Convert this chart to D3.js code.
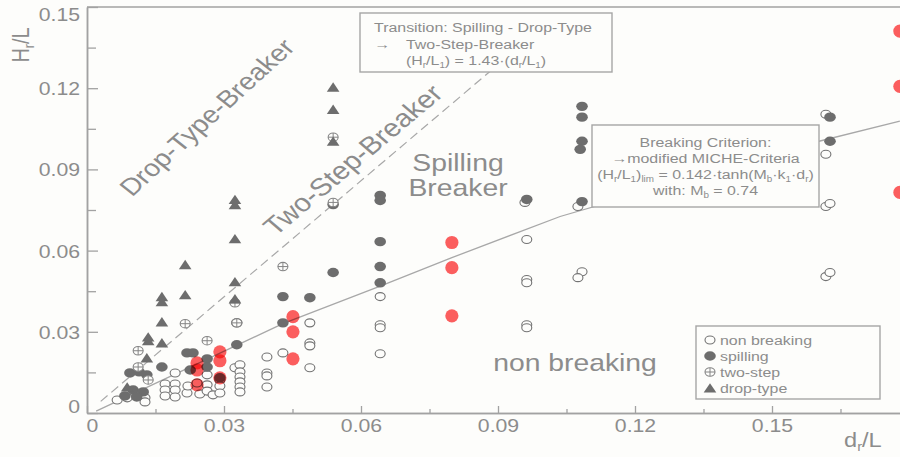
<!DOCTYPE html>
<html>
<head>
<meta charset="utf-8">
<script src="https://cdn.jsdelivr.net/npm/d3@7"></script>
<style>
  html, body { margin: 0; padding: 0; background: #fdfdfb; }
  svg { display: block; font-family: "Liberation Sans", Arial, sans-serif; }
</style>
</head>
<body>
<svg id="chart" width="900" height="457"></svg>
<script>
// ---- measured breaker data: [d_r/L, H_r/L] ----
const nonBreaking = [
  [0.0066,0.0048],[0.0088,0.0056],[0.0127,0.0056],[0.0127,0.0041],
  [0.0171,0.0107],[0.0171,0.0085],[0.0171,0.0063],
  [0.0193,0.0148],[0.0193,0.0107],[0.0193,0.0085],[0.0193,0.0059],
  [0.0219,0.0074],[0.0221,0.0100],[0.0241,0.0111],[0.0247,0.0070],
  [0.0263,0.0141],[0.0263,0.0104],[0.0263,0.0081],[0.0276,0.0067],
  [0.0291,0.0122],[0.0291,0.0100],[0.0291,0.0074],
  [0.0324,0.0167],[0.0335,0.0178],[0.0335,0.0152],[0.0335,0.0133],[0.0335,0.0115],[0.0335,0.0096],[0.0335,0.0078],
  [0.0394,0.0207],[0.0394,0.0148],[0.0394,0.0137],[0.0394,0.0096],
  [0.0429,0.0222],
  [0.0488,0.0333],[0.0488,0.0259],[0.0488,0.0248],[0.0488,0.0167],
  [0.0642,0.0430],[0.0642,0.0326],[0.0642,0.0315],[0.0642,0.0219],
  [0.0959,0.0778],[0.0963,0.0641],[0.0963,0.0493],[0.0963,0.0481],[0.0963,0.0326],[0.0963,0.0315],
  [0.1075,0.0763],[0.1084,0.0522],[0.1075,0.0500],
  [0.1618,0.1104],[0.1618,0.0956],[0.1618,0.0763],[0.1627,0.0774],[0.1618,0.0504],[0.1627,0.0519]
];
const spilling = [
  [0.0094,0.0148],[0.0114,0.0152],[0.0131,0.0141],[0.0101,0.0085],[0.0123,0.0078],[0.0083,0.0063],[0.0109,0.0059],
  [0.0164,0.0170],[0.0219,0.0222],[0.0232,0.0222],[0.0226,0.0159],[0.0263,0.0200],[0.0263,0.0170],
  [0.0291,0.0130],[0.0328,0.0252],[0.0328,0.0333],
  [0.0429,0.0430],[0.0429,0.0333],[0.0488,0.0426],
  [0.0539,0.0770],[0.0539,0.0519],
  [0.0642,0.0804],[0.0642,0.0785],[0.0642,0.0633],[0.0642,0.0541],[0.0642,0.0481],
  [0.0963,0.0789],
  [0.1084,0.1133],[0.1084,0.1093],[0.1084,0.1004],[0.1080,0.0974],[0.1084,0.0781],
  [0.1627,0.1093],[0.1627,0.1004]
];
const twoStep = [
  [0.0112,0.0230],[0.0112,0.0170],[0.0134,0.0122],[0.0215,0.0330],[0.0263,0.0267],
  [0.0324,0.0407],[0.0328,0.0333],[0.0429,0.0541],[0.0539,0.1019],[0.0539,0.0778]
];
const dropType = [
  [0.0088,0.0096],[0.0131,0.0204],[0.0134,0.0281],[0.0134,0.0267],[0.0164,0.0259],[0.0164,0.0337],
  [0.0164,0.0430],[0.0164,0.0411],[0.0215,0.0437],[0.0215,0.0548],
  [0.0324,0.0422],[0.0324,0.0485],[0.0324,0.0644],[0.0324,0.0770],[0.0324,0.0789],
  [0.0539,0.1004],[0.0539,0.1122],[0.0539,0.1204]
];
const newTests = [
  [0.0241,0.0185],[0.0241,0.0159],[0.0241,0.0104],
  [0.0291,0.0226],[0.0291,0.0193],[0.0291,0.0130],
  [0.0451,0.0356],[0.0451,0.0300],[0.0451,0.0200],
  [0.0799,0.0630],[0.0799,0.0537],[0.0799,0.0359],
  [0.1780,0.1411],[0.1780,0.1207],[0.1780,0.0815]
];
// breaking criterion curve (modified Miche)
const micheCurve = [
  [0.0020,0.0007],[0.0429,0.0330],[0.0642,0.0469],[0.0799,0.0574],
  [0.1036,0.0726],[0.1603,0.1004],[0.1780,0.1078]
];
// transition spilling / drop-type: H/L = 1.43 * d/L
const transitionSlope = 1.43;
const transitionRange = [0.003, 0.0885];

const xTicks = [0, 0.03, 0.06, 0.09, 0.12, 0.15];
const xMinorTicks = [0.015, 0.045, 0.075, 0.105, 0.135, 0.165];
const yTicks = [0, 0.03, 0.06, 0.09, 0.12, 0.15];
const yMinorTicks = [0.015, 0.045, 0.075, 0.105, 0.135];
const legendItems = ["non breaking", "spilling", "two-step", "drop-type"];

// ---- drawing ----
const SX = 1.18;               // horizontal text stretch
const GREY = "#8c8c8c";
const AXIS = "#a2a2a2";
const MARK = "#6d6d6d";
const svg = d3.select("#chart");

const x = d3.scaleLinear().domain([0, 0.18]).range([87, 909]);
const y = d3.scaleLinear().domain([0, 0.15]).range([413, 7]);

svg.append("rect").attr("width", 900).attr("height", 457).attr("fill", "#fdfdfb");

svg.append("defs").append("clipPath").attr("id", "plot")
  .append("rect").attr("x", 87).attr("y", 7).attr("width", 813).attr("height", 406);

// text helper: segments [{t, sub}] inside a stretched group
function label(parent, px, py, segs, o) {
  const size = o.size, rot = o.rotate || 0;
  const g = parent.append("g")
    .attr("transform", `translate(${px},${py}) scale(${SX},1)` + (rot ? ` rotate(${rot})` : ""));
  const t = g.append("text")
    .attr("font-size", size)
    .attr("fill", o.fill || GREY)
    .attr("text-anchor", o.anchor || "start");
  let shifted = false;
  (typeof segs === "string" ? [{ t: segs }] : segs).forEach(s => {
    const ts = t.append("tspan").text(s.t);
    if (s.sub) {
      ts.attr("font-size", size * 0.62).attr("dy", shifted ? 0 : size * 0.22);
      shifted = true;
    } else if (shifted) {
      ts.attr("dy", -size * 0.22);
      shifted = false;
    }
  });
  return g;
}

// frame top line
svg.append("line").attr("x1", 87).attr("x2", 900).attr("y1", 7).attr("y2", 7)
  .attr("stroke", AXIS).attr("stroke-width", 1.5);

// axes
function styleAxis(g) {
  g.select(".domain").attr("stroke", AXIS).attr("stroke-width", 1.5);
  g.selectAll(".tick line").attr("stroke", AXIS).attr("stroke-width", 1.3);
}
function styleLabels(g, shift) {
  g.selectAll(".tick text").each(function (d) {
    const s = shift(d);
    d3.select(this).attr("x", null).attr("y", null).attr("dy", s.dy)
      .attr("transform", `translate(${s.tx},${s.ty}) scale(${SX},1)`)
      .attr("font-size", 18).attr("fill", GREY)
      .attr("font-family", "Liberation Sans, Arial, sans-serif");
  });
}
const fmt = d => d === 0 ? "0" : d3.format(".2f")(d);

svg.append("g").attr("transform", "translate(0,413)")
  .call(d3.axisBottom(x).tickValues(xMinorTicks).tickSizeInner(-4).tickSizeOuter(0).tickFormat(""))
  .call(styleAxis);
svg.append("g").attr("transform", "translate(0,413)")
  .call(d3.axisBottom(x).tickValues(xTicks).tickSizeInner(-7).tickSizeOuter(0).tickFormat(fmt))
  .call(styleAxis)
  .call(g => styleLabels(g, d => ({ tx: d === 0 ? 5 : 0, ty: 19, dy: null })));

svg.append("g").attr("transform", "translate(87,0)")
  .call(d3.axisLeft(y).tickValues(yMinorTicks).tickSizeInner(-9).tickSizeOuter(0).tickFormat(""))
  .call(styleAxis);
svg.append("g").attr("transform", "translate(87,0)")
  .call(d3.axisLeft(y).tickValues(yTicks).tickSizeInner(-11).tickSizeOuter(0).tickFormat(fmt))
  .call(styleAxis)
  .call(g => styleLabels(g, d => ({ tx: -7, ty: d === 0.15 ? 7 : (d === 0 ? -7 : 0), dy: "0.36em" })));

// axis titles
label(svg, 29, 45, [{ t: "H" }, { t: "r", sub: true }, { t: "/L" }], { size: 20, anchor: "middle", rotate: -90 });
label(svg, 844, 447, [{ t: "d" }, { t: "r", sub: true }, { t: "/L" }], { size: 20 });

// curves
const plot = svg.append("g").attr("clip-path", "url(#plot)");
const line = d3.line().x(d => x(d[0])).y(d => y(d[1]));
plot.append("path")
  .datum(transitionRange.map(d => [d, transitionSlope * d]))
  .attr("d", line).attr("fill", "none").attr("stroke", "#a8a8a8")
  .attr("stroke-width", 1.2).attr("stroke-dasharray", "9,5");
plot.append("path").datum(micheCurve).attr("d", line)
  .attr("fill", "none").attr("stroke", "#a8a8a8").attr("stroke-width", 1.3);

// marker shapes
function openMark(g, cx, cy) {
  g.append("ellipse").attr("cx", cx).attr("cy", cy).attr("rx", 5).attr("ry", 4)
    .attr("fill", "#fdfdfb").attr("stroke", "#737373").attr("stroke-width", 1.1);
}
function spillMark(g, cx, cy) {
  g.append("ellipse").attr("cx", cx).attr("cy", cy).attr("rx", 5.8).attr("ry", 4.7).attr("fill", MARK);
}
function twoStepMark(g, cx, cy) {
  g.append("ellipse").attr("cx", cx).attr("cy", cy).attr("rx", 5).attr("ry", 4.2)
    .attr("fill", "#fdfdfb").attr("stroke", "#858585").attr("stroke-width", 1.1);
  g.append("path").attr("d", `M${cx - 5},${cy}H${cx + 5}M${cx},${cy - 4.2}V${cy + 4.2}`)
    .attr("stroke", "#858585").attr("stroke-width", 1);
}
function dropMark(g, cx, cy) {
  g.append("path").attr("d", `M${cx - 6.3},${cy + 4.6}L${cx + 6.3},${cy + 4.6}L${cx},${cy - 4.8}Z`).attr("fill", MARK);
}

const marks = plot.append("g");
nonBreaking.forEach(d => openMark(marks, x(d[0]), y(d[1])));
spilling.forEach(d => spillMark(marks, x(d[0]), y(d[1])));
twoStep.forEach(d => twoStepMark(marks, x(d[0]), y(d[1])));
dropType.forEach(d => dropMark(marks, x(d[0]), y(d[1])));

plot.append("g").selectAll("circle").data(newTests).join("circle")
  .attr("cx", d => x(d[0])).attr("cy", d => y(d[1])).attr("r", 6.6)
  .attr("fill", "#fb5e5e").style("mix-blend-mode", "multiply");

// region labels
label(svg, 214, 123, "Drop-Type-Breaker", { size: 24, anchor: "middle", rotate: -47 });
label(svg, 360, 166, "Two-Step-Breaker", { size: 25, anchor: "middle", rotate: -44.7 });
label(svg, 458, 171, "Spilling", { size: 24, anchor: "middle" });
label(svg, 458, 196, "Breaker", { size: 24, anchor: "middle" });
label(svg, 575, 371, "non breaking", { size: 24, anchor: "middle" });

// annotation: transition line
svg.append("rect").attr("x", 360).attr("y", 13).attr("width", 252).attr("height", 59)
  .attr("fill", "#fdfdfb").attr("stroke", "#a5a5a5").attr("stroke-width", 1.4);
label(svg, 374, 32, "Transition: Spilling - Drop-Type", { size: 13.5 });
label(svg, 374, 49, "\u2192", { size: 13.5 });
label(svg, 406, 49, "Two-Step-Breaker", { size: 13.5 });
label(svg, 406, 65, [{ t: "(H" }, { t: "r", sub: true }, { t: "/L" }, { t: "1", sub: true },
  { t: ") = 1.43\u00b7(d" }, { t: "r", sub: true }, { t: "/L" }, { t: "1", sub: true }, { t: ")" }], { size: 13.5 });

// annotation: breaking criterion
svg.append("rect").attr("x", 592).attr("y", 125).attr("width", 227).attr("height", 82)
  .attr("fill", "#fdfdfb").attr("stroke", "#a5a5a5").attr("stroke-width", 1.4);
label(svg, 705.5, 147, "Breaking Criterion:", { size: 13.5, anchor: "middle" });
label(svg, 705.5, 163, "\u2192modified MICHE-Criteria", { size: 13.5, anchor: "middle" });
label(svg, 705.5, 179, [{ t: "(H" }, { t: "r", sub: true }, { t: "/L" }, { t: "1", sub: true }, { t: ")" },
  { t: "lim", sub: true }, { t: " = 0.142\u00b7tanh(M" }, { t: "b", sub: true }, { t: "\u00b7k" },
  { t: "1", sub: true }, { t: "\u00b7d" }, { t: "r", sub: true }, { t: ")" }], { size: 13.5, anchor: "middle" });
label(svg, 705.5, 195, [{ t: "with: M" }, { t: "b", sub: true }, { t: " = 0.74" }], { size: 13.5, anchor: "middle" });

// legend
const lg = svg.append("g");
lg.append("rect").attr("x", 696).attr("y", 326).attr("width", 184).attr("height", 73)
  .attr("fill", "#fdfdfb").attr("stroke", "#a5a5a5").attr("stroke-width", 1.4);
const legendMarks = [openMark, spillMark, twoStepMark, dropMark];
legendItems.forEach((name, i) => {
  const cy = 340 + i * 16;
  legendMarks[i](lg, 710, cy);
  label(lg, 720, cy + 4.5, name, { size: 13.5 });
});
</script>
</body>
</html>
